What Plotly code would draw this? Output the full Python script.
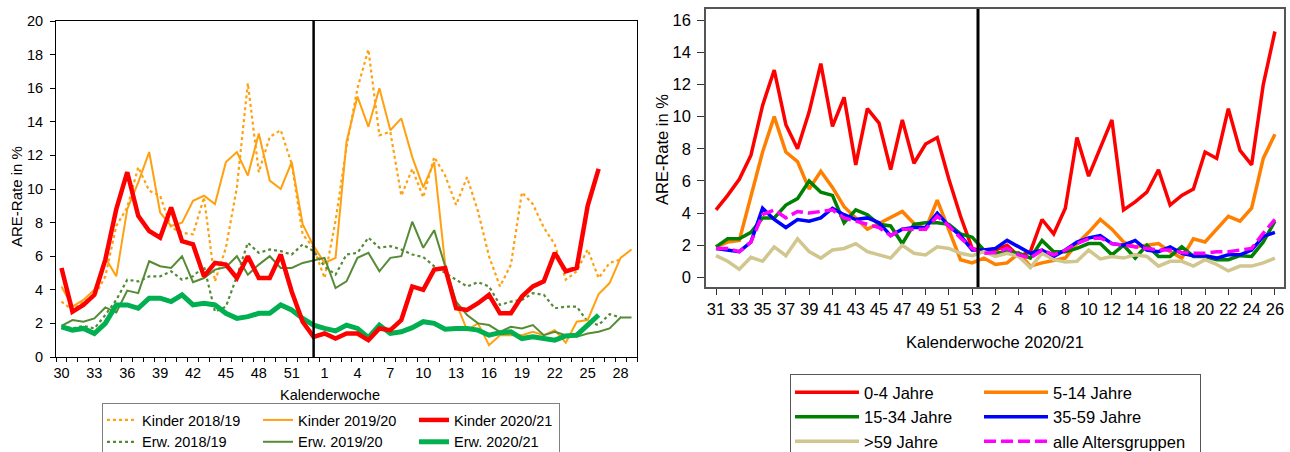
import plotly.graph_objects as go

# ---------------- data: left chart (Kinder / Erwachsene, 3 seasons) ----------------
weeks_left = list(range(30, 54)) + list(range(1, 30))   # 30..53, 1..29

kinder_2018_19 = [3.3, 2.8, 3.3, 3.6, 4.8, 7.8, 8.9, 11.3, 9.9, 9.6, 7.7, 7.4, 7.3, 9.5, 4.5, 6.5, 10.1, 16.3,
                  11.0, 13.1, 13.5, 11.5, 7.3,
                  6.5, 4.7, 8.1, 12.5, 16.0, 18.3, 13.2, 13.4, 9.6, 11.2, 9.5, 11.9, 10.8, 9.05, 10.7, 8.65,
                  6.0, 4.2, 5.5, 9.8, 9.1, 7.7, 6.7, 4.6, 5.1, 6.4, 4.7, 5.6, 5.8]
kinder_2019_20 = [4.2, 3.0, 3.4, 4.0, 5.9, 4.8, 8.8, 10.4, 12.2, 8.6, 7.8, 8.0, 9.3, 9.6, 9.1, 11.6, 12.2, 10.8,
                  13.3, 10.5, 10.0, 11.6, 7.9,
                  6.6, 5.6, 5.9, 12.8, 15.5, 13.7, 16.0, 13.5, 14.2, 11.9, 10.1, 11.6, 5.5, 3.2, 1.6, 2.0,
                  0.7, 1.3, 1.3, 1.3, 1.5, 1.3, 1.6, 0.85, 2.1, 2.2, 3.75, 4.4, 5.9, 6.4]
kinder_2020_21 = [5.3, 2.7, 3.1, 3.7, 5.8, 8.8, 11.0, 8.4, 7.5, 7.1, 8.9, 6.9, 6.7, 4.8, 5.6, 5.5, 4.7, 6.0,
                  4.7, 4.7, 6.1, 3.9, 2.1,
                  1.2, 1.4, 1.1, 1.4, 1.4, 1.0, 1.7, 1.6, 2.2, 4.2, 4.0, 5.2, 5.3, 2.9, 2.8, 3.2, 3.7, 2.6,
                  2.6, 3.6, 4.2, 4.5, 6.2, 5.1, 5.3, 9.0, 11.2]
erw_2018_19 = [1.85, 1.7, 1.85, 1.7, 2.5, 3.4, 4.6, 4.5, 4.8, 4.8, 5.1, 4.6, 4.8, 5.4, 2.7, 3.0, 4.8, 6.8,
               6.2, 6.4, 6.3, 6.1, 6.7,
               6.3, 5.4, 4.9, 6.1, 6.2, 7.1, 6.5, 6.6, 6.4, 6.1, 5.95, 5.4, 5.0, 4.6, 4.2, 4.45, 4.2,
               3.1, 3.3, 3.4, 3.8, 3.7, 2.9, 3.0, 3.0, 2.1, 1.9, 2.55, 2.35]
erw_2019_20 = [1.85, 2.2, 2.1, 2.3, 2.95, 2.65, 3.95, 3.8, 5.7, 5.4, 5.3, 6.0, 4.45, 4.7, 5.2, 5.35, 6.0, 4.9,
               5.5, 6.0, 5.3, 5.3, 5.6,
               5.75, 5.9, 4.1, 4.5, 5.9, 6.2, 5.1, 5.9, 6.0, 8.05, 6.5, 7.55, 5.4, 3.3, 2.5, 2.0, 1.9,
               1.5, 1.8, 1.7, 1.9, 1.3, 1.5, 1.3, 1.2, 1.4, 1.5, 1.7, 2.35, 2.35]
erw_2020_21 = [1.8, 1.6, 1.7, 1.4, 2.0, 3.1, 3.1, 2.9, 3.5, 3.5, 3.3, 3.7, 3.1, 3.2, 3.1, 2.6, 2.3, 2.4,
               2.6, 2.6, 3.1, 2.8, 2.3,
               1.9, 1.7, 1.55, 1.9, 1.7, 1.15, 1.9, 1.4, 1.5, 1.75, 2.1, 2.0, 1.65, 1.7, 1.7, 1.6, 1.3,
               1.45, 1.5, 1.1, 1.2, 1.1, 1.0, 1.25, 1.3, 1.9, 2.5]

# ---------------- data: right chart (age groups, 2020/21) ----------------
weeks_right = list(range(31, 54)) + list(range(1, 27))  # 31..53, 1..26

age_0_4 = [4.2, 5.1, 6.1, 7.6, 10.7, 12.9, 9.5, 8.0, 10.3, 13.3, 9.4, 11.2, 7.0, 10.5, 9.6, 6.7, 9.8, 7.1,
           8.3, 8.7, 6.1, 3.8, 1.8,
           1.6, 1.7, 2.0, 1.3, 1.6, 3.6, 2.7, 4.3, 8.7, 6.3, 8.0, 9.8, 4.2, 4.7, 5.3, 6.7, 4.5, 5.1,
           5.5, 7.8, 7.4, 10.5, 7.9, 7.0, 12.0, 15.3]
age_5_14 = [1.9, 2.2, 2.3, 5.0, 7.8, 10.0, 7.8, 7.2, 5.5, 6.6, 5.6, 4.4, 3.7, 3.0, 3.35, 3.7, 4.1, 3.35,
            3.0, 4.8, 3.0, 1.1, 0.9,
            1.2, 0.8, 0.9, 1.5, 0.7, 0.9, 1.05, 1.2, 2.1, 2.8, 3.6, 3.0, 2.2, 1.9, 2.0, 2.1, 1.6, 1.2,
            2.4, 2.2, 3.0, 3.8, 3.5, 4.3, 7.4, 8.9]
age_15_34 = [1.9, 2.4, 2.4, 2.8, 3.7, 3.7, 4.5, 4.9, 6.0, 5.3, 5.1, 3.4, 4.2, 3.9, 3.3, 3.2, 2.1, 3.3,
             3.4, 3.4, 3.3, 2.7, 2.5,
             1.7, 1.5, 1.6, 1.5, 1.2, 2.3, 1.6, 1.6, 1.8, 2.1, 2.1, 1.4, 2.0, 1.2, 2.0, 1.3, 1.3, 1.9,
             1.3, 1.3, 1.1, 1.1, 1.35, 1.3, 2.2, 3.5]
age_35_59 = [1.8, 1.7, 1.6, 2.2, 4.3, 3.6, 3.1, 3.6, 3.5, 3.7, 4.3, 3.9, 3.6, 3.7, 3.4, 2.6, 3.0, 3.1,
             3.1, 4.0, 3.2, 2.6, 1.7,
             1.7, 1.8, 2.3, 1.9, 1.5, 1.7, 1.3, 1.7, 2.2, 2.45, 2.6, 2.1, 2.0, 2.3, 1.7, 1.6, 1.9, 1.5,
             1.35, 1.35, 1.2, 1.4, 1.4, 1.7, 2.55, 2.8]
age_60_plus = [1.35, 1.0, 0.5, 1.25, 1.0, 1.9, 1.35, 2.4, 1.6, 1.2, 1.7, 1.8, 2.1, 1.6, 1.4, 1.2, 2.0, 1.5,
               1.4, 1.9, 1.8, 1.5, 1.35,
               1.6, 1.3, 1.5, 1.3, 0.6, 1.5, 1.1, 0.95, 1.0, 1.7, 1.15, 1.3, 1.2, 1.4, 1.3, 0.7, 1.0, 1.0,
               0.7, 1.1, 0.8, 0.4, 0.7, 0.7, 0.9, 1.2]
age_all = [1.8, 1.8, 1.6, 2.2, 3.9, 4.2, 3.7, 4.1, 4.0, 4.1, 4.2, 3.7, 3.5, 3.3, 3.1, 2.6, 3.0, 3.0,
           3.0, 3.8, 3.2, 2.45, 1.8,
           1.5, 1.55, 1.8, 1.4, 1.2, 1.7, 1.4, 1.7, 2.1, 2.4, 2.45, 2.1, 2.0, 1.9, 1.8, 1.7, 1.7, 1.55,
           1.5, 1.5, 1.6, 1.6, 1.7, 1.8, 2.75, 3.6]

FONT = "Liberation Sans, Arial, sans-serif"
W, H = 1290, 452

xl = list(range(len(weeks_left)))
xr = list(range(len(weeks_right)))

fig = go.Figure()

ORANGE = "#FFA010"
OLIVE = "#568B36"
left_series = [
    ("Kinder 2018/19", kinder_2018_19, ORANGE, 2.2, "dot", "a"),
    ("Erw. 2018/19", erw_2018_19, OLIVE, 2.2, "dot", "a"),
    ("Kinder 2019/20", kinder_2019_20, ORANGE, 2.0, "solid", "b"),
    ("Erw. 2019/20", erw_2019_20, OLIVE, 2.0, "solid", "b"),
    ("Erw. 2020/21", erw_2020_21, "#00B050", 5.0, "solid", "c"),
    ("Kinder 2020/21", kinder_2020_21, "#FF0000", 4.5, "solid", "c"),
]
for name, vals, col, w, dash, grp in left_series:
    fig.add_trace(go.Scatter(
        x=xl[:len(vals)], y=vals, name=name, mode="lines",
        line=dict(color=col, width=w, dash=dash),
        legendgroup=grp, legend="legend", xaxis="x", yaxis="y",
        legendrank=1 if name.startswith("Kinder") else 2,
        legendwidth=111 if grp != "c" else 100,
    ))

right_series = [
    ("0-4 Jahre", age_0_4, "#FF0000", "solid", "g1"),
    ("5-14 Jahre", age_5_14, "#FF8000", "solid", "g2"),
    ("15-34 Jahre", age_15_34, "#008000", "solid", "g1"),
    ("35-59 Jahre", age_35_59, "#0000FF", "solid", "g2"),
    (">59 Jahre", age_60_plus, "#D0C68E", "solid", "g1"),
    ("alle Altersgruppen", age_all, "#FF00FF", "12px,5px", "g2"),
]
for name, vals, col, dash, grp in right_series:
    fig.add_trace(go.Scatter(
        x=xr[:len(vals)], y=vals, name=name, mode="lines",
        line=dict(color=col, width=3.5, dash=dash),
        legendgroup=grp, legend="legend2", xaxis="x2", yaxis="y2",
        legendwidth=110 if grp == "g1" else 142,
    ))

# axis geometry (pixel -> paper)
def px(x):
    return x / W

def py(y):
    return 1 - y / H

left_ticks = [i for i in xl if i % 3 == 0]
right_ticks = [i for i in xr if i % 2 == 0]

axis_font = dict(family=FONT, size=14.5, color="#000")
axis_font_r = dict(family=FONT, size=16.5, color="#000")

fig.update_layout(
    width=W, height=H,
    margin=dict(l=0, r=0, t=0, b=0, autoexpand=False),
    paper_bgcolor="white", plot_bgcolor="white",
    font=dict(family=FONT, color="#000"),
    xaxis=dict(
        domain=[px(56), px(637)], anchor="y", range=[-0.5, len(xl) - 0.5],
        tickvals=left_ticks, ticktext=[str(weeks_left[i]) for i in left_ticks],
        ticks="outside", ticklen=3, tickcolor="rgba(0,0,0,0)", tickfont=axis_font,
        minor=dict(tick0=-0.5, dtick=1, ticks="outside", ticklen=4, tickcolor="#000", tickwidth=1),
        showline=True, linecolor="#000", linewidth=1, mirror=True, showgrid=False, zeroline=False,
    ),
    yaxis=dict(
        domain=[py(357), py(21)], anchor="x", range=[0, 20], dtick=2,
        ticks="outside", ticklen=5, tickcolor="#000", tickfont=axis_font,
        showline=True, linecolor="#000", linewidth=1, mirror=True, showgrid=False, zeroline=False,
        ticklabelstandoff=4,
    ),
    xaxis2=dict(
        domain=[px(706), px(1284)], anchor="y2", range=[-0.86, 48.78],
        tickvals=right_ticks, ticktext=[str(weeks_right[i]) for i in right_ticks],
        ticks="outside", ticklen=6, tickcolor="#333", tickfont=axis_font_r,
        showline=True, linecolor="#555", linewidth=1.5, mirror=True, showgrid=False, zeroline=False,
        ticklabelstandoff=0,
    ),
    yaxis2=dict(
        domain=[py(287), py(9)], anchor="x2", range=[-0.6, 16.7], dtick=2,
        ticks="outside", ticklen=7, tickcolor="#333", tickfont=axis_font_r,
        showline=True, linecolor="#555", linewidth=1.5, mirror=True, showgrid=False, zeroline=False,
        ticklabelstandoff=3,
    ),
    legend=dict(
        x=px(102), y=py(403), xanchor="left", yanchor="top", orientation="h",
        traceorder="grouped", bordercolor="#7f7f7f", borderwidth=1, bgcolor="white",
        font=dict(family=FONT, size=14.5, color="#000"), itemwidth=30,
        tracegroupgap=0,
    ),
    legend2=dict(
        x=px(790), y=py(374), xanchor="left", yanchor="top", orientation="h",
        traceorder="grouped", bordercolor="#555", borderwidth=1, bgcolor="white",
        font=dict(family=FONT, size=16.5, color="#000"), itemwidth=64,
        tracegroupgap=0,
    ),
    showlegend=True,
)

# season-break lines
break_left = weeks_left.index(53)
break_right = weeks_right.index(53) + 0.5
fig.add_shape(type="line", xref="x", yref="y domain", x0=break_left, x1=break_left, y0=0, y1=1,
              line=dict(color="#000", width=2.5))
fig.add_shape(type="line", xref="x2", yref="y2 domain", x0=break_right, x1=break_right, y0=0, y1=1,
              line=dict(color="#000", width=3))

# axis titles
def title(text, x, y, size, angle=0):
    fig.add_annotation(text=text, xref="paper", yref="paper", x=px(x), y=py(y),
                       xanchor="center", yanchor="middle", textangle=angle, showarrow=False,
                       font=dict(family=FONT, size=size, color="#000"))

title("ARE-Rate in %", 16, 197, 15, -90)
title("Kalenderwoche", 330, 395, 14.5)
title("ARE-Rate in %", 662, 150, 16.5, -90)
title("Kalenderwoche 2020/21", 995, 342, 16.5)

fig.write_html("out.html", config={"displayModeBar": False},
               post_script="document.body.style.margin='0';document.body.style.overflow='hidden';")
